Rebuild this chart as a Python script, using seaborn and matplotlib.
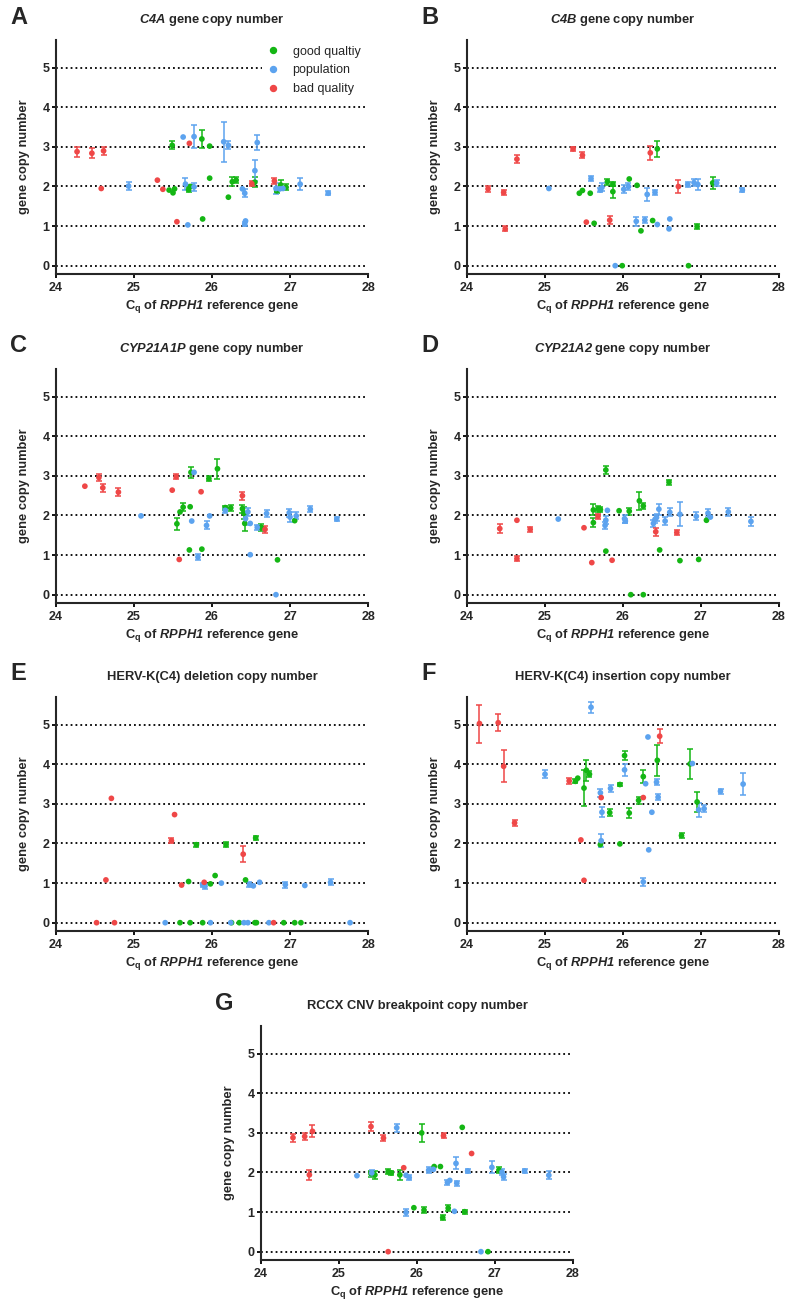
import pandas as pd
import matplotlib
matplotlib.use("Agg")
import matplotlib.pyplot as plt
from matplotlib.lines import Line2D
import seaborn as sns

# each point: (Cq of RPPH1, copy number, error half-length; 0 = no error bar)
A_good = [(25.49, 3.04, 0.10), (25.45, 1.91, 0), (25.50, 1.84, 0), (25.52, 1.94, 0), (25.70, 1.92, 0.06),
          (25.72, 2.00, 0.05), (25.87, 3.20, 0.22), (25.88, 1.18, 0), (25.97, 3.02, 0), (25.97, 2.21, 0),
          (26.21, 1.73, 0), (26.26, 2.12, 0.12), (26.31, 2.16, 0.08), (26.55, 2.11, 0.12), (26.83, 1.89, 0.05),
          (26.88, 2.04, 0.12), (26.95, 1.98, 0.08)]
A_pop = [(24.93, 2.01, 0.10), (25.63, 3.25, 0), (25.66, 2.06, 0.15), (25.69, 1.03, 0), (25.77, 3.26, 0.30),
         (25.77, 1.99, 0.10), (26.15, 3.13, 0.50), (26.21, 3.04, 0.10), (26.39, 1.94, 0), (26.42, 1.83, 0.10),
         (26.42, 1.05, 0.05), (26.43, 1.13, 0), (26.55, 2.40, 0.27), (26.58, 3.11, 0.18), (26.82, 1.95, 0.15),
         (26.87, 1.94, 0), (26.91, 1.95, 0), (27.13, 2.06, 0.15), (27.49, 1.83, 0.05)]
A_bad = [(24.27, 2.88, 0.13), (24.46, 2.84, 0.12), (24.61, 2.90, 0.10), (24.58, 1.95, 0), (25.30, 2.16, 0),
         (25.37, 1.93, 0), (25.55, 1.11, 0), (25.71, 3.09, 0), (26.51, 2.07, 0.06), (26.80, 2.14, 0.07)]

B_good = [(25.44, 1.83, 0), (25.48, 1.90, 0), (25.58, 1.83, 0), (25.63, 1.07, 0), (25.80, 2.12, 0.08),
          (25.87, 2.06, 0.06), (25.87, 1.87, 0.15), (25.99, 0.00, 0), (26.08, 2.19, 0), (26.18, 2.03, 0),
          (26.23, 0.88, 0), (26.38, 1.14, 0), (26.44, 2.95, 0.20), (26.84, 0.00, 0), (26.95, 0.99, 0.06),
          (27.15, 2.09, 0.16)]
B_pop = [(25.05, 1.95, 0), (25.59, 2.20, 0.06), (25.71, 1.91, 0.06), (25.73, 1.98, 0.10), (25.90, 0.00, 0),
         (26.01, 1.93, 0.10), (26.07, 2.00, 0.08), (26.17, 1.12, 0.12), (26.28, 1.15, 0.07), (26.31, 1.80, 0.16),
         (26.41, 1.85, 0.06), (26.44, 1.04, 0), (26.59, 0.93, 0), (26.60, 1.18, 0), (26.83, 2.05, 0.06),
         (26.91, 2.10, 0.10), (26.96, 2.05, 0.14), (27.20, 2.09, 0.08), (27.53, 1.91, 0.06)]
B_bad = [(24.27, 1.94, 0.08), (24.47, 1.85, 0.06), (24.49, 0.93, 0.06), (24.64, 2.69, 0.10), (25.36, 2.95, 0.06),
         (25.48, 2.79, 0.08), (25.53, 1.10, 0), (25.83, 1.15, 0.10), (26.35, 2.85, 0.18), (26.71, 2.00, 0.17)]

C_good = [(25.55, 1.79, 0.15), (25.59, 2.09, 0), (25.63, 2.21, 0.10), (25.71, 1.13, 0), (25.72, 2.22, 0),
          (25.73, 3.09, 0.14), (25.87, 1.15, 0), (25.96, 2.93, 0.06), (26.07, 3.18, 0.25), (26.17, 2.20, 0.05),
          (26.24, 2.19, 0.08), (26.39, 2.17, 0.10), (26.42, 1.80, 0.20), (26.41, 2.06, 0.15), (26.63, 1.70, 0.08),
          (26.84, 0.88, 0), (27.06, 1.87, 0)]
C_pop = [(25.09, 1.99, 0), (25.74, 1.86, 0), (25.77, 3.09, 0), (25.82, 0.95, 0.08), (25.93, 1.75, 0.10),
         (25.97, 1.99, 0), (26.17, 2.13, 0.06), (26.43, 1.92, 0.15), (26.46, 2.09, 0.10), (26.49, 1.80, 0),
         (26.49, 1.01, 0), (26.58, 1.70, 0.06), (26.70, 2.05, 0.10), (26.82, 0.00, 0), (26.99, 2.07, 0.10),
         (27.00, 1.96, 0.13), (27.08, 1.99, 0.09), (27.26, 2.16, 0.08), (27.60, 1.91, 0.06)]
C_bad = [(24.37, 2.74, 0), (24.55, 2.96, 0.08), (24.60, 2.70, 0.10), (24.80, 2.59, 0.10), (25.49, 2.64, 0),
         (25.54, 2.98, 0.06), (25.58, 0.89, 0), (25.86, 2.60, 0), (26.39, 2.50, 0.10), (26.68, 1.65, 0.08)]

D_good = [(25.62, 1.82, 0.12), (25.62, 2.14, 0.14), (25.68, 2.17, 0.08), (25.71, 2.15, 0.07), (25.78, 3.15, 0.10),
          (25.78, 1.10, 0), (25.95, 2.12, 0), (26.08, 2.11, 0.09), (26.10, 0.00, 0), (26.21, 2.37, 0.22),
          (26.26, 2.24, 0.08), (26.26, 0.00, 0), (26.47, 1.13, 0), (26.59, 2.84, 0.06), (26.73, 0.86, 0),
          (26.97, 0.89, 0), (27.07, 1.88, 0)]
D_pop = [(25.17, 1.91, 0), (25.77, 1.75, 0.08), (25.78, 1.88, 0.10), (25.80, 2.13, 0), (26.02, 1.92, 0.10),
         (26.03, 1.86, 0.06), (26.39, 1.80, 0.08), (26.41, 1.90, 0.10), (26.43, 1.95, 0.08), (26.46, 2.16, 0.14),
         (26.54, 1.86, 0.10), (26.60, 2.08, 0.10), (26.73, 2.03, 0.30), (26.94, 1.98, 0.10), (27.09, 2.06, 0.10),
         (27.12, 1.96, 0), (27.35, 2.09, 0.10), (27.64, 1.85, 0.12)]
D_bad = [(24.42, 1.67, 0.12), (24.64, 1.88, 0), (24.64, 0.91, 0.06), (24.81, 1.65, 0.07), (25.50, 1.69, 0),
         (25.60, 0.81, 0), (25.68, 1.98, 0.07), (25.86, 0.87, 0), (26.42, 1.59, 0.10), (26.69, 1.57, 0.06)]

E_good = [(25.70, 1.04, 0), (25.80, 1.97, 0.05), (25.98, 0.98, 0), (26.04, 1.19, 0), (26.18, 1.97, 0.06),
          (26.43, 1.08, 0), (26.56, 2.14, 0.05), (25.59, 0.00, 0), (25.72, 0.00, 0), (25.88, 0.00, 0),
          (26.25, 0.00, 0), (26.35, 0.00, 0), (26.55, 0.00, 0), (26.57, 0.00, 0), (26.92, 0.00, 0),
          (27.06, 0.00, 0), (27.14, 0.00, 0)]
E_pop = [(25.88, 0.96, 0.05), (25.91, 0.92, 0.06), (26.12, 1.00, 0), (26.48, 0.96, 0.07), (26.53, 0.93, 0),
         (26.61, 1.02, 0), (26.94, 0.96, 0.08), (27.19, 0.94, 0), (27.52, 1.02, 0.08), (25.40, 0.00, 0),
         (25.98, 0.00, 0), (26.24, 0.00, 0), (26.41, 0.00, 0), (26.46, 0.00, 0), (26.73, 0.00, 0),
         (27.77, 0.00, 0)]
E_bad = [(24.71, 3.14, 0), (24.64, 1.08, 0), (25.52, 2.73, 0), (25.48, 2.07, 0.07), (25.61, 0.95, 0),
         (25.90, 1.02, 0), (26.40, 1.73, 0.20), (24.52, 0.00, 0), (24.75, 0.00, 0), (26.79, 0.00, 0)]

F_good = [(25.39, 3.57, 0.05), (25.42, 3.65, 0), (25.50, 3.40, 0.45), (25.53, 3.85, 0.27), (25.57, 3.75, 0.08),
          (25.71, 1.97, 0), (25.83, 2.78, 0.08), (25.96, 3.49, 0.05), (25.96, 1.99, 0), (26.02, 4.22, 0.12),
          (26.08, 2.77, 0.12), (26.20, 3.09, 0.08), (26.26, 3.69, 0.17), (26.44, 4.10, 0.40), (26.75, 2.20, 0.06),
          (26.86, 4.01, 0.37), (26.95, 3.05, 0.25)]
F_pop = [(25.00, 3.75, 0.10), (25.59, 5.44, 0.14), (25.71, 3.28, 0.10), (25.73, 2.79, 0.12), (25.72, 2.07, 0.17),
         (25.84, 3.39, 0.08), (26.02, 3.86, 0.15), (26.26, 1.03, 0.10), (26.29, 3.51, 0), (26.32, 4.69, 0),
         (26.33, 1.84, 0), (26.37, 2.79, 0), (26.43, 3.55, 0.07), (26.45, 3.17, 0.08), (26.89, 4.02, 0),
         (26.97, 2.85, 0.17), (27.04, 2.88, 0.08), (27.25, 3.32, 0.06), (27.54, 3.50, 0.27)]
F_bad = [(24.16, 5.03, 0.48), (24.40, 5.05, 0.22), (24.47, 3.95, 0.40), (24.61, 2.52, 0.07), (25.31, 3.58, 0.08),
         (25.46, 2.09, 0), (25.50, 1.07, 0), (25.72, 3.16, 0), (26.26, 3.16, 0), (26.47, 4.71, 0.18)]

G_good = [(25.41, 1.97, 0.08), (25.46, 1.94, 0.10), (25.63, 2.02, 0.07), (25.67, 1.99, 0.05), (25.78, 1.94, 0.12),
          (25.96, 1.11, 0), (26.06, 3.00, 0.23), (26.09, 1.05, 0.08), (26.22, 2.15, 0), (26.30, 2.15, 0),
          (26.33, 0.86, 0.07), (26.40, 1.10, 0.08), (26.58, 3.14, 0), (26.61, 1.01, 0.05), (26.91, 0.00, 0),
          (27.05, 2.06, 0.08)]
G_pop = [(25.23, 1.92, 0), (25.42, 1.99, 0.07), (25.74, 3.13, 0.10), (25.86, 1.93, 0), (25.86, 0.99, 0.10),
         (25.90, 1.87, 0.07), (26.15, 2.06, 0.08), (26.21, 2.08, 0), (26.39, 1.75, 0.07), (26.42, 1.80, 0),
         (26.48, 1.02, 0), (26.50, 2.23, 0.15), (26.51, 1.73, 0.06), (26.65, 2.04, 0.06), (26.82, 0.00, 0),
         (26.96, 2.13, 0.15), (27.09, 2.01, 0.08), (27.11, 1.89, 0.07), (27.38, 2.04, 0.05), (27.69, 1.93, 0.10)]
G_bad = [(24.41, 2.88, 0.10), (24.56, 2.91, 0.08), (24.66, 3.04, 0.15), (24.62, 1.94, 0.13), (25.41, 3.16, 0.12),
         (25.57, 2.87, 0.08), (25.63, 0.00, 0), (25.83, 2.12, 0), (26.34, 2.93, 0.07), (26.70, 2.48, 0)]

groups = ["good qualtiy", "population", "bad quality"]
colors = {"good qualtiy": "#14b614", "population": "#5ca3ef", "bad quality": "#ef4747"}

titles = {
    "A": r"$\mathbfit{C4A}$ gene copy number",
    "B": r"$\mathbfit{C4B}$ gene copy number",
    "C": r"$\mathbfit{CYP21A1P}$ gene copy number",
    "D": r"$\mathbfit{CYP21A2}$ gene copy number",
    "E": "HERV-K(C4) deletion copy number",
    "F": "HERV-K(C4) insertion copy number",
    "G": "RCCX CNV breakpoint copy number",
}
panel_data = {
    "A": (A_good, A_pop, A_bad), "B": (B_good, B_pop, B_bad), "C": (C_good, C_pop, C_bad),
    "D": (D_good, D_pop, D_bad), "E": (E_good, E_pop, E_bad), "F": (F_good, F_pop, F_bad),
    "G": (G_good, G_pop, G_bad),
}

sns.set_style("ticks")
plt.rcParams["font.family"] = ["Liberation Sans", "DejaVu Sans"]
plt.rcParams["mathtext.fontset"] = "custom"
plt.rcParams["mathtext.rm"] = "Liberation Sans"
plt.rcParams["mathtext.bf"] = "Liberation Sans:bold"
plt.rcParams["mathtext.it"] = "Liberation Sans:italic"
plt.rcParams["mathtext.bfit"] = "Liberation Sans:bold:italic"

W, H = 799, 1310
fig = plt.figure(figsize=(W / 100, H / 100), dpi=100)

# axes boxes in pixels: left, top
boxes = {"A": (56, 40), "B": (467, 40), "C": (56, 369), "D": (467, 369),
         "E": (56, 697), "F": (467, 697), "G": (261, 1026)}
aw, ah = 312, 234

for key, (left, top) in boxes.items():
    ax = fig.add_axes([left / W, (H - top - ah) / H, aw / W, ah / H])
    rows = []
    for g, pts in zip(groups, panel_data[key]):
        for x, y, e in pts:
            rows.append({"cq": x, "copy": y, "err": e, "group": g})
    df = pd.DataFrame(rows)

    for yv in range(6):
        ax.axhline(yv, color="black", lw=1.3, ls=(0, (1, 1.7)), zorder=0)

    for g in groups:
        sub = df[(df["group"] == g) & (df["err"] > 0)]
        ax.errorbar(sub["cq"], sub["copy"], yerr=sub["err"], fmt="none", ecolor=colors[g],
                    elinewidth=1.1, capsize=2.3, capthick=1.1, zorder=2)
    sns.scatterplot(data=df, x="cq", y="copy", hue="group", hue_order=groups, palette=colors,
                    s=17, edgecolor="none", legend=False, ax=ax, zorder=3)

    ax.set_xlim(24, 28)
    ax.set_ylim(-0.21, 5.7)
    ax.set_xticks([24, 25, 26, 27, 28])
    ax.set_yticks([0, 1, 2, 3, 4, 5])
    for s in ["top", "right"]:
        ax.spines[s].set_visible(False)
    for s in ["left", "bottom"]:
        ax.spines[s].set_linewidth(1.5)
    ax.tick_params(axis="both", length=3.2, width=1.3, labelsize=9, color="black")
    ax.tick_params(axis="y", pad=1.5)
    ax.tick_params(axis="x", pad=2.5)
    for lab in ax.get_xticklabels() + ax.get_yticklabels():
        lab.set_fontweight("bold")

    ax.set_ylabel("gene copy number", fontsize=9.3, fontweight="bold", labelpad=9)
    ax.set_xlabel(r"$\mathbf{C_q}$ of $\mathbfit{RPPH1}$ reference gene", fontsize=9.3,
                  fontweight="bold", labelpad=3)
    ax.set_title(titles[key], fontsize=9.3, fontweight="bold", pad=12)

    fig.text((left - 46) / W, 1 - (top - 23) / H, key, fontsize=17, fontweight="bold",
             ha="left", va="center")

    if key == "A":
        handles = [Line2D([], [], marker="o", ls="none", color=colors[g], markersize=4.3) for g in groups]
        leg = ax.legend(handles, groups, loc="upper left", bbox_to_anchor=(0.66, 0.995),
                        borderaxespad=0, fontsize=9, handlelength=1.0, handletextpad=1.1,
                        labelspacing=0.55, borderpad=0.35, frameon=True, fancybox=False)
        leg.get_frame().set_facecolor("white")
        leg.get_frame().set_edgecolor("none")
        leg.get_frame().set_alpha(1)

fig.savefig("out.png", dpi=100)
